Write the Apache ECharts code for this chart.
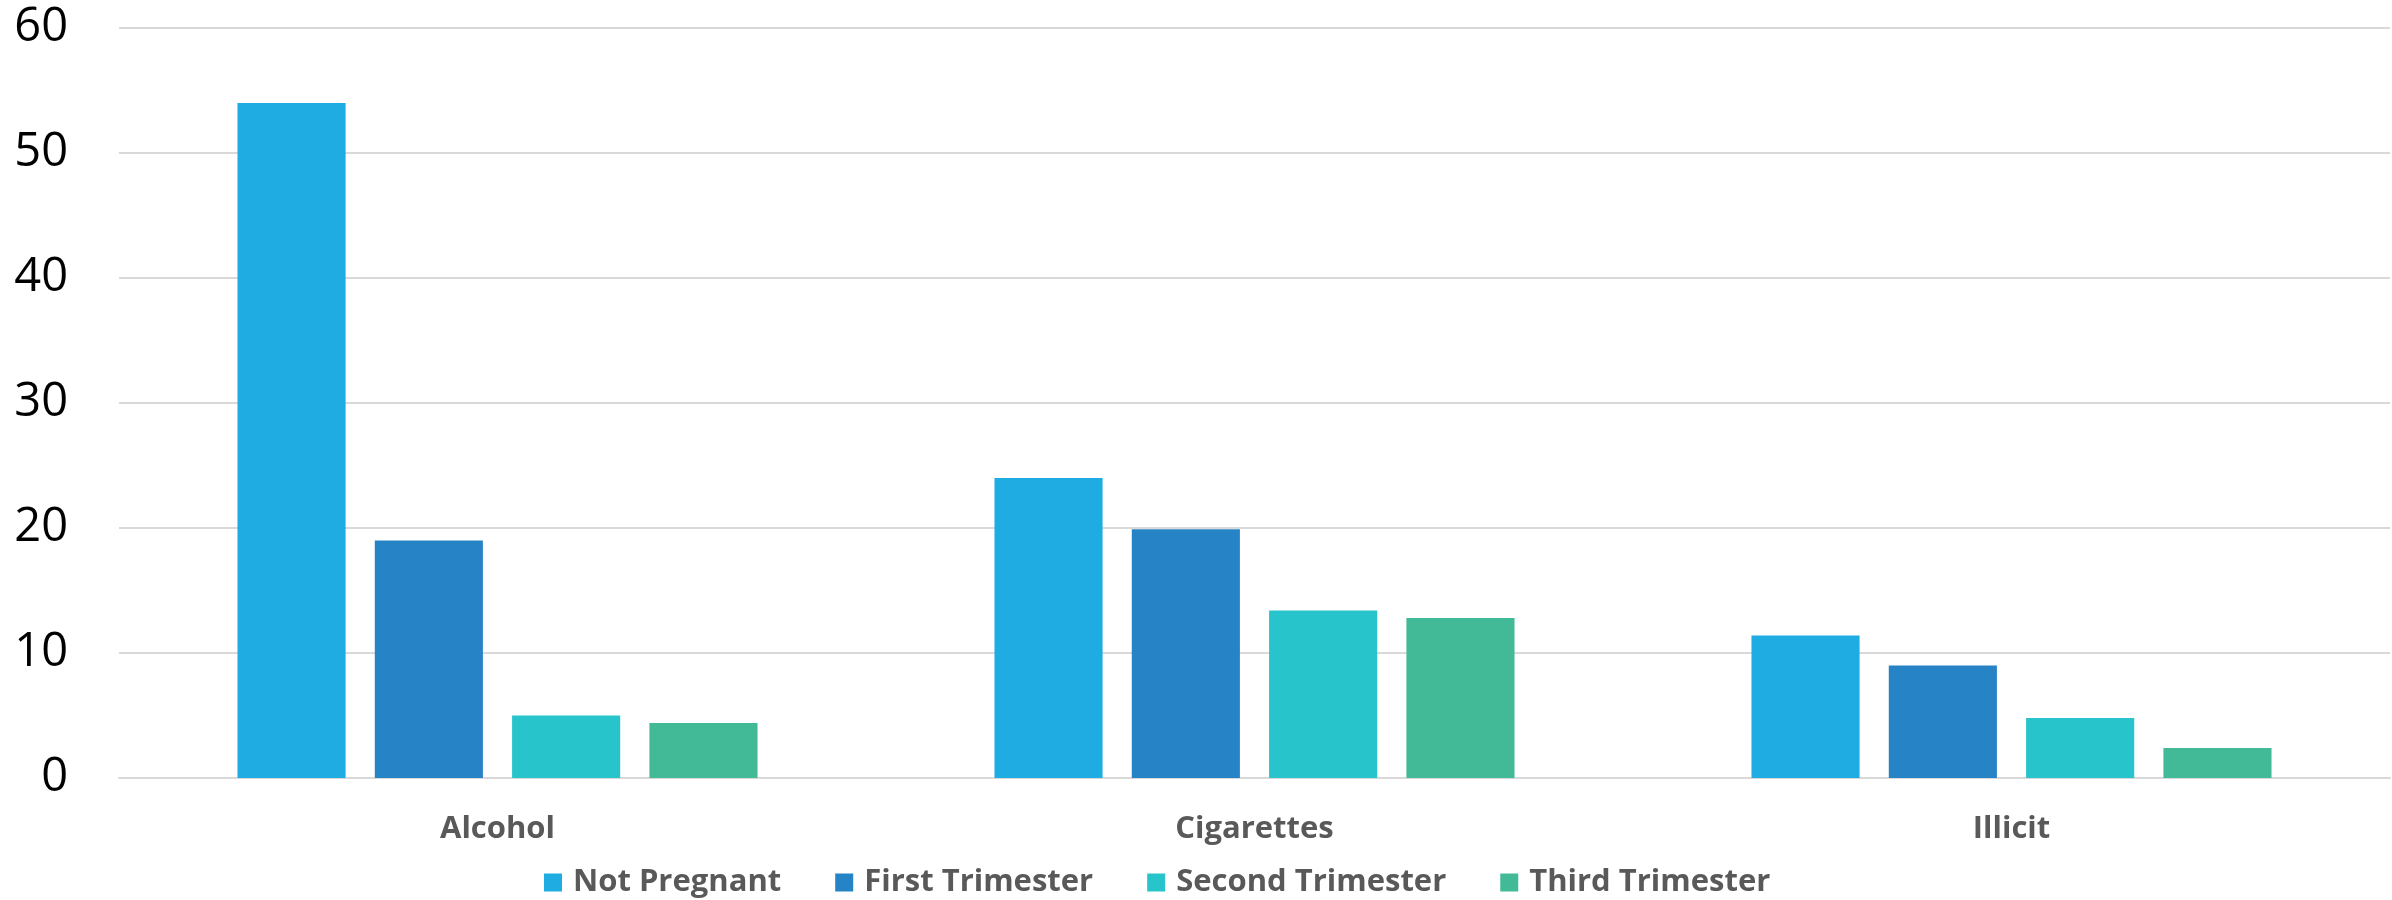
<!DOCTYPE html>
<html><head><meta charset="utf-8">
<script src="https://cdn.jsdelivr.net/npm/echarts@6/dist/echarts.min.js"></script>
<style>html,body{margin:0;padding:0;background:#fff}#c{width:2392px;height:900px}</style>
</head><body><div id="c"></div>
<script>
const categories = ['Alcohol', 'Cigarettes', 'Illicit'];
const seriesNames = ['Not Pregnant', 'First Trimester', 'Second Trimester', 'Third Trimester'];
const notPregnant = [54, 24, 11.4];
const firstTrimester = [19, 19.9, 9];
const secondTrimester = [5, 13.4, 4.8];
const thirdTrimester = [4.4, 12.8, 2.4];
const yTicks = [0, 10, 20, 30, 40, 50, 60];
const colors = ['#1FACE3', '#2683C6', '#27C4CB', '#42BA97'];
const values = [notPregnant, firstTrimester, secondTrimester, thirdTrimester];

const chart = echarts.init(document.getElementById('c'));
chart.setOption({
  animation: false,
  grid: { left: 119, right: 2, top: 28, bottom: 122, containLabel: false },
  legend: {
    left: 539, top: 862, itemWidth: 18, itemHeight: 18, itemGap: 54,
    icon: 'rect',
    textStyle: { fontFamily: 'Open Sans', fontWeight: 'bold', fontSize: 31, color: '#595959', padding: [0,0,0,6] },
    data: seriesNames
  },
  xAxis: {
    type: 'category', data: categories,
    axisLine: { lineStyle: { color: '#d9d9d9', width: 2 } },
    axisTick: { show: false },
    axisLabel: { fontFamily: 'Open Sans', fontWeight: 'bold', fontSize: 31, color: '#595959', margin: 36 }
  },
  yAxis: {
    type: 'value', min: yTicks[0], max: yTicks[yTicks.length - 1], interval: 10,
    axisLine: { show: false }, axisTick: { show: false },
    splitLine: { lineStyle: { color: '#d9d9d9', width: 2 } },
    axisLabel: { fontFamily: 'Open Sans', fontSize: 47, color: '#000', margin: 51 }
  },
  series: seriesNames.map((n, i) => ({
    name: n, type: 'bar', data: values[i],
    barGap: '27%', barCategoryGap: '31.3%',
    itemStyle: { color: colors[i] }
  }))
});
</script></body></html>
